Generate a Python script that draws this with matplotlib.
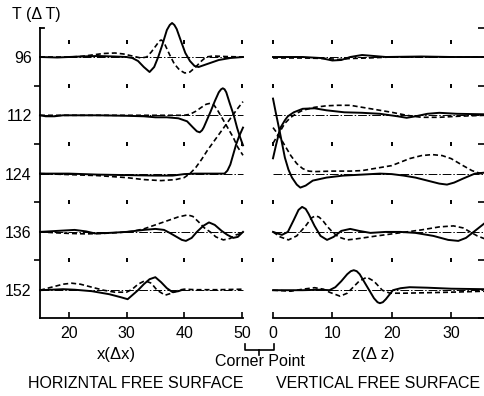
import matplotlib
matplotlib.use('Agg')
import matplotlib.pyplot as plt
from matplotlib.lines import Line2D

# time steps (rows) and vertical offset between the traces
times = [96, 112, 124, 136, 152]
spacing = 58.3

# horizontal free surface, (x, amplitude) pairs; s = solid, d = dashed
hs96 = [(15, 0), (18, -0.5), (22, 0.5), (25, 1), (28, 0.5), (30, 0), (31, -1), (32, -4), (33, -10), (34, -15),
        (34.8, -10), (35.5, 0), (36.2, 12), (37, 27), (37.5, 32), (37.9, 34), (38.3, 32), (38.7, 28), (39.5, 15),
        (40.2, 4), (41, -4), (41.8, -9), (42.5, -10), (43.5, -8), (44.5, -6), (46, -3), (48, -1), (50.2, 0)]
hd96 = [(15, 0), (20, 0), (22, 0.5), (24, 2), (26, 3.5), (28, 4), (29.5, 3), (31, 1), (32.5, -1), (33.5, 0),
        (34.3, 5), (35.2, 12), (35.7, 16), (36, 17), (36.3, 16), (36.7, 12), (37.5, 2), (38.3, -7), (39.2, -13),
        (40.1, -16), (41, -15), (42, -10), (43, -4), (43.8, 0), (45, 1), (47, 0.5), (50.2, 0)]
hs112 = [(15, 0), (16, -1), (17.5, -1), (19, 0), (25, 0), (30, -0.5), (33, -1), (35, -2), (37, -2), (39, -3),
         (40.5, -6), (41.5, -12), (42.2, -16), (42.7, -17), (43.1, -15), (43.4, -12), (44, -4), (44.6, 4),
         (45.3, 14), (46, 23), (46.4, 26), (46.7, 27), (47, 26), (47.3, 23), (47.9, 12), (48.6, 0), (49.2, -13),
         (49.7, -22), (50.2, -30)]
hd112 = [(15, 0), (25, 0), (35, 0), (40, 0), (41, 1), (42, 4), (43, 8), (43.8, 11), (44.5, 12), (45.2, 10),
         (45.8, 5), (46.3, 0), (47, -7), (47.8, -15), (48.5, -22), (49.3, -32), (50.2, -40)]
hs124 = [(15, 0), (20, 0), (25, -1), (30, -1.5), (35, -2), (38, -2), (40, -0.5), (42, 0), (45, 0), (47, 0),
         (47.5, 3), (48, 9), (48.5, 19), (49, 29), (49.5, 37), (50.2, 46)]
hd124 = [(15, 0), (20, -1), (25, -2), (30, -4), (33, -6), (36, -7), (38.5, -6), (40, -4), (41, 0), (42, 6),
         (43, 14), (44, 23), (45, 31), (46, 39), (47, 47), (48, 55), (49, 63), (50.2, 72)]
hs136 = [(15, 0), (18, 1), (21, 2), (23, 0.5), (24.5, -1.5), (27, -1), (30, 0), (33, 2), (35, 3), (36.5, 2),
         (37.5, -1), (38.7, -5), (39.6, -8), (40.3, -9), (41.3, -6), (42.2, 0), (43.3, 6), (44.3, 9.5), (45.3, 7),
         (46.5, 1), (47.5, -3), (48.5, -6), (49.3, -5), (50.2, 0)]
hd136 = [(15, 0), (18, -1), (20, -1.5), (23, -2), (26, -1.5), (29, -0.5), (31, 0.5), (33, 3), (35, 7), (37, 11),
         (39, 15), (40.6, 17), (41.5, 15.5), (42.5, 10), (43.5, 4), (44.5, 0), (45.5, -5), (46.8, -8), (48, -6.5),
         (49, -3), (50.2, -1)]
hs152 = [(15, 0), (17, 0.5), (19, 1), (21, 0.5), (24, -1), (27, -4), (29, -7), (30.2, -9), (31, -5), (32, 0),
         (33, 6), (34, 11), (35, 13), (36, 8), (37, 2), (38, -2), (39, -1), (39.5, 0)]
hd152 = [(15, 0), (17, 3), (19, 6), (20.5, 7), (22, 6), (24, 3), (26, 0), (28, -2), (30, -2), (31, 1), (32, 6),
         (33.2, 9.5), (34.3, 7), (35.3, 0), (36.7, -5), (37.8, -3), (39, 0), (40, 1), (42, 0.5), (46, 0.5),
         (50.2, 1)]

# vertical free surface, (z, amplitude) pairs
vs96 = [(0, 0), (5, 0), (8, -1), (10, -3.5), (11.5, -3), (13, 0), (15, 2), (17, 1), (19, 0), (25, 0.5), (30, 0),
        (35.7, 0)]
vd96 = [(0, -1), (5, -1), (9, -1.5), (11, -2.5), (13, -1.5), (16, -1), (20, 0), (28, 0), (35.7, 0)]
vs112 = [(0, -43), (0.5, -30), (1.2, -13), (2, -5), (2.5, -1), (3.5, 3), (5, 6.5), (7, 7), (9, 5), (12, 3),
         (15, 2.5), (18, 1.5), (21, -1), (22.5, -2.5), (24, -1), (26, 1.5), (28, 2.5), (31, 1.5), (35.7, 1)]
vd112 = [(0, -28), (1, -18), (2, -8), (3, -2), (4, 2), (5, 5), (7, 8), (9, 9.5), (11, 10), (13, 10), (15, 8),
         (17, 6), (20, 3), (22.5, 0), (25, -2), (28, -2), (31, -1), (35.7, 0)]
vs124 = [(0, 75), (0.5, 60), (1.2, 40), (2, 16), (2.6, 4), (3.2, -4), (4, -11), (4.6, -14), (5.5, -12), (6.7, -7),
         (9, -4), (11.8, -2), (15, -1), (18, 0), (20, -0.5), (22, -2), (24, -4), (26, -7), (28, -10), (29.3, -11),
         (30.5, -9), (32, -5), (34, 0), (35.7, 1)]
vd124 = [(0, 46), (1, 38), (2, 28), (3, 18), (4, 10), (5, 5), (6, 2.5), (7, 2), (10, 2.5), (13, 2.5), (15, 3),
         (17, 5), (20, 8), (23, 15), (25, 18), (26.8, 19), (28.5, 18), (30, 15), (32, 8), (33.5, 3), (35, 0),
         (35.7, 0)]
vs136 = [(0, 0), (1.5, -3), (2.5, 0), (3.5, 12), (4.3, 22), (4.9, 25), (5.5, 23), (6, 18), (7, 6), (8, -4),
         (9.1, -8), (10.2, -5), (11.5, 1), (13, 3), (14.5, 1), (16.4, -1), (19, 0), (21.4, 0), (24, -1), (27, -4),
         (29.5, -8), (31.2, -9), (32.5, -6), (34, 1), (35.7, 9)]
vd136 = [(0, 0), (1.2, -5), (2.6, -8), (4, -4), (5.5, 6), (6.5, 14), (7.1, 16), (7.7, 15), (8.3, 12), (9.2, 5),
         (10, 0), (11, -5), (12.5, -8), (14, -7), (17.5, -4), (20, -2), (22.5, 0), (25, 2), (28, 5), (30.4, 6),
         (32, 4), (33.2, 0), (34.4, -4), (35.7, -7)]
vs152 = [(0, 0), (5, 0), (8, 0.5), (9.5, 0), (10.5, 3), (11.5, 9), (12.5, 16), (13.1, 19), (13.6, 20), (14.1, 19),
         (14.6, 16), (15.5, 7), (16.2, 0), (17, -8), (17.6, -12), (18, -13), (18.5, -12), (19, -9), (20.2, 0),
         (21.5, 2), (23, 3), (26, 2.5), (30, 1.5), (35.7, 1)]
vd152 = [(0, 0), (3, -1), (5, 1), (7, 2.5), (8.5, 1), (9.5, -2), (11.3, -6), (12.5, -3), (13.5, 3), (14.5, 9),
         (15.8, 13), (17, 9), (18.4, 0), (19.7, -3), (22, -3), (26, -2.5), (30, -2), (35.7, -1)]

hor_solid = [hs96, hs112, hs124, hs136, hs152]
hor_dash = [hd96, hd112, hd124, hd136, hd152]
ver_solid = [vs96, vs112, vs124, vs136, vs152]
ver_dash = [vd96, vd112, vd124, vd136, vd152]

xticks = [20, 30, 40, 50]
zticks = [0, 10, 20, 30]

W, H = 485, 396
num_font = ['Liberation Sans Narrow', 'Liberation Sans', 'DejaVu Sans']
txt_font = ['Liberation Sans', 'DejaVu Sans']
fs = 11.5

fig = plt.figure(figsize=(W / 100, H / 100), dpi=100)
axh = fig.add_axes([40 / W, 78 / H, 203 / W, 290 / H])
axv = fig.add_axes([273 / W, 78 / H, 212 / W, 290 / H])

offsets = [-spacing * i for i in range(len(times))]
dot_rows = [15, -29, -87, -145, -203]
edge_marks = [29, -29, -87, -145, -203, -261]

for ax, solids, dashes, xlim, ticks in [(axh, hor_solid, hor_dash, (15, 50.2), xticks),
                                         (axv, ver_solid, ver_dash, (0, 35.7), zticks)]:
    for off, s, d in zip(offsets, solids, dashes):
        ax.plot(xlim, [off, off], color='k', lw=0.7, ls=(0, (9, 2, 1.5, 2)), clip_on=False)
        ax.plot([p[0] for p in d], [off + p[1] for p in d], color='k', lw=1.2, ls=(0, (3, 1.8)), clip_on=False)
        ax.plot([p[0] for p in s], [off + p[1] for p in s], color='k', lw=1.4, clip_on=False)
    for t in ticks:
        ax.plot([t] * len(dot_rows), dot_rows, ls='none', marker='|', ms=3.5, mew=1.4, color='k', clip_on=False)
    ax.set_xlim(*xlim)
    ax.set_ylim(-261, 29)
    ax.set_xticks(ticks)
    ax.set_xticklabels([str(t) for t in ticks], family=num_font, fontsize=fs)
    ax.tick_params(axis='x', direction='in', length=4, width=1.2, pad=6)
    ax.spines['top'].set_visible(False)
    ax.spines['right'].set_visible(False)
    ax.spines['bottom'].set_linewidth(1.3)
    ax.patch.set_visible(False)

# left panel: T axis
axh.spines['left'].set_linewidth(1.3)
axh.set_yticks(offsets)
axh.set_yticklabels([str(t) for t in times], family=num_font, fontsize=fs)
axh.set_yticks(edge_marks[1:-1], minor=True)
axh.tick_params(axis='y', which='major', length=0, pad=6)
axh.tick_params(axis='y', which='minor', direction='out', length=4, width=1.2)
axh.plot([0, 0.02], [1, 1], color='k', lw=1.3, transform=axh.transAxes, clip_on=False)

# right panel: only tick marks on the right edge
axv.spines['left'].set_visible(False)
axv.yaxis.tick_right()
axv.set_yticks(edge_marks)
axv.set_yticklabels([])
axv.tick_params(axis='y', direction='in', length=5, width=1.2)

fig.text(36 / W, 1 - 14 / H, 'T (Δ T)', family=txt_font, fontsize=fs, ha='center', va='center')
fig.text(116 / W, 1 - 355 / H, 'x(Δx)', family=txt_font, fontsize=fs + 0.5, ha='center', va='center')
fig.text(373 / W, 1 - 355 / H, 'z(Δ z)', family=txt_font, fontsize=fs + 0.5, ha='center', va='center')
fig.text(260 / W, 1 - 362 / H, 'Corner Point', family=txt_font, fontsize=fs, ha='center', va='center')
fig.text(136 / W, 1 - 384 / H, 'HORIZNTAL FREE SURFACE', family=txt_font, fontsize=fs, ha='center', va='center')
fig.text(378 / W, 1 - 384 / H, 'VERTICAL FREE SURFACE', family=txt_font, fontsize=fs, ha='center', va='center')

# bracket under the corner point
bx = [245 / W, 245 / W, 274 / W, 274 / W]
by = [1 - 344 / H, 1 - 350 / H, 1 - 350 / H, 1 - 344 / H]
fig.add_artist(Line2D(bx, by, color='k', lw=1.2))
fig.add_artist(Line2D([259.5 / W, 259.5 / W], [1 - 350 / H, 1 - 355 / H], color='k', lw=1.2))

fig.savefig('out.png', dpi=100)
